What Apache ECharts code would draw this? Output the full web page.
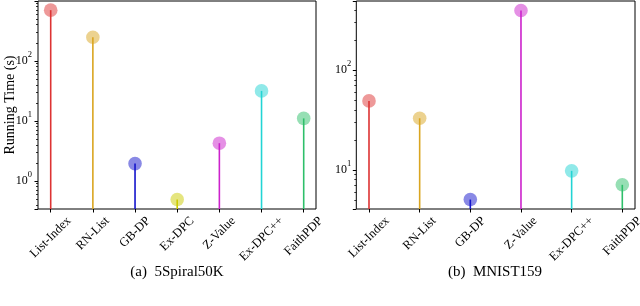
<!DOCTYPE html>
<html><head><meta charset="utf-8">
<script src="https://cdn.jsdelivr.net/npm/echarts@6/dist/echarts.min.js"></script>
<style>html,body{margin:0;padding:0;background:#fff}#c{width:640px;height:306px}</style>
</head><body><div id="c"></div>
<script>
// ---- data ----
const catsA = ['List-Index', 'RN-List', 'GB-DP', 'Ex-DPC', 'Z-Value', 'Ex-DPC++', 'FaithPDP'];
const valsA = [700, 248, 1.94, 0.49, 4.25, 31.6, 11];
const catsB = ['List-Index', 'RN-List', 'GB-DP', 'Z-Value', 'Ex-DPC++', 'FaithPDP'];
const valsB = [49.3, 33, 5.05, 398, 9.8, 7.1];
const yRangeA = [0.34, 995];
const yRangeB = [4.06, 495];
const minorA = [0.4, 0.5, 0.6, 0.7, 0.8, 0.9, 2, 3, 4, 5, 6, 7, 8, 9, 20, 30, 40, 50, 60, 70, 80, 90, 200, 300, 400, 500, 600, 700, 800, 900];
const minorB = [5, 6, 7, 8, 9, 20, 30, 40, 50, 60, 70, 80, 90, 200, 300, 400];
const captionA = '(a)  5Spiral50K';
const captionB = '(b)  MNIST159';
const figCaption = 'Figure 3: Running time comparison';

const colorMap = {
  'List-Index': '#dd3333', 'RN-List': '#daa520', 'GB-DP': '#1414cc', 'Ex-DPC': '#cccc00',
  'Z-Value': '#cc22cc', 'Ex-DPC++': '#22d4d4', 'FaithPDP': '#2ebf6a'
};
const FONT = '"Liberation Serif", "Times New Roman", serif';
const LABEL_SIZE = 12.5;

// measure label widths so rotated labels are centred under their tick (matplotlib ha=center)
const cv = document.createElement('canvas').getContext('2d');
cv.font = LABEL_SIZE + 'px "Liberation Serif"';
const GRID_BOTTOM = 209, MARGIN = 2, TOP_Y = 214.5, H = 12.5;
function richFor(cats) {
  const rich = {};
  cats.forEach((c, i) => {
    const L = cv.measureText(c).width;
    const anchorY = GRID_BOTTOM + MARGIN;
    let s = (TOP_Y - anchorY + 0.3536 * (L + H)) / 1.4142;
    if (s < 0) s = 0;
    rich['k' + i] = { fontSize: LABEL_SIZE, fontFamily: FONT, color: '#000', padding: [2 * s, 2 * s, 0, 0] };
  });
  return rich;
}
const yRich = {
  b: { fontSize: 12, fontFamily: FONT, color: '#000' },
  s: { fontSize: 8.5, fontFamily: FONT, color: '#000', padding: [0, 0, 12, 0] }
};
function yFmt(v) {
  const e = Math.log10(v);
  if (Math.abs(e - Math.round(e)) > 1e-6) return '';
  return '{b|10}{s|' + Math.round(e) + '}';
}

function xAxis(gi, cats) {
  return {
    type: 'value', gridIndex: gi, min: 0, max: cats.length - 1, interval: 1,
    axisLine: { show: false, onZero: false }, splitLine: { show: false },
    axisTick: { show: true, length: 3.5, lineStyle: { color: '#000', width: 1 } },
    axisLabel: {
      rotate: 45, align: 'center', verticalAlign: 'middle', margin: MARGIN,
      formatter: v => '{k' + Math.round(v) + '|' + cats[Math.round(v)] + '}',
      rich: richFor(cats)
    }
  };
}
function yAxis(gi, range, offset, margin, name) {
  return {
    type: 'log', logBase: 10, gridIndex: gi, min: range[0], max: range[1],
    position: 'left', offset: offset,
    axisLine: { show: false, onZero: false }, splitLine: { show: false },
    axisTick: { show: true, length: 3.5, lineStyle: { color: '#000', width: 1 } },
    axisLabel: { margin: margin, formatter: yFmt, rich: yRich },
    name: name, nameLocation: 'middle', nameGap: 21, nameMoveOverlap: false,
    nameTextStyle: { fontSize: 14, fontFamily: FONT, color: '#000' }
  };
}
function yMinor(gi, range, offset, minor) {
  return {
    type: 'log', logBase: 10, gridIndex: gi, min: range[0], max: range[1],
    position: 'left', offset: offset,
    axisLine: { show: false, onZero: false }, splitLine: { show: false }, axisLabel: { show: false },
    axisTick: { show: true, customValues: minor, length: 2, lineStyle: { color: '#000', width: 0.8 } }
  };
}
function stemSeries(xi, yi, cats, vals) {
  return {
    type: 'custom', xAxisIndex: xi, yAxisIndex: yi, clip: false,
    data: vals.map((v, i) => ({ value: [i, v], itemStyle: { color: colorMap[cats[i]] } })),
    renderItem: (params, api) => {
      const p = api.coord([api.value(0), api.value(1)]);
      const cs = params.coordSys;
      const bottom = cs.y + cs.height;
      const color = api.visual('color');
      return {
        type: 'group', children: [
          { type: 'circle', shape: { cx: p[0], cy: p[1], r: 6.8 }, style: { fill: color, opacity: 0.5 } },
          { type: 'line', shape: { x1: p[0], y1: bottom, x2: p[0], y2: p[1] }, style: { stroke: color, lineWidth: 1.6 } }
        ]
      };
    }
  };
}

const chart = echarts.init(document.getElementById('c'), null, { renderer: 'canvas' });
const base = { top: 1, height: 208, containLabel: false, outerBoundsMode: 'none' };
const frame = { show: true, borderColor: '#000', borderWidth: 1, backgroundColor: 'transparent' };
chart.setOption({
  animation: false,
  backgroundColor: '#fff',
  textStyle: { fontFamily: FONT },
  grid: [
    // data areas: from first to last category (matplotlib adds 5% margins)
    Object.assign({ left: 50.7, width: 253.0 }, base),
    Object.assign({ left: 369.0, width: 253.3 }, base),
    // frames
    Object.assign({ left: 38, width: 278 }, base, frame),
    Object.assign({ left: 356.3, width: 278.7 }, base, frame)
  ],
  xAxis: [xAxis(0, catsA), xAxis(1, catsB),
    { type: 'value', gridIndex: 2, show: false }, { type: 'value', gridIndex: 3, show: false }],
  yAxis: [
    yAxis(0, yRangeA, 12.7, 6, 'Running Time (s)'),
    yAxis(1, yRangeB, 12.7, 5, ''),
    { type: 'value', gridIndex: 2, show: false }, { type: 'value', gridIndex: 3, show: false },
    yMinor(0, yRangeA, 12.7, minorA), yMinor(1, yRangeB, 12.7, minorB)
  ],
  series: [stemSeries(0, 0, catsA, valsA), stemSeries(1, 1, catsB, valsB)],
  graphic: [
    { type: 'text', x: 177, y: 272, style: { text: captionA, font: '15px ' + FONT, fill: '#000', align: 'center', verticalAlign: 'middle', textAlign: 'center', textVerticalAlign: 'middle' } },
    { type: 'text', x: 495, y: 272, style: { text: captionB, font: '15px ' + FONT, fill: '#000', align: 'center', verticalAlign: 'middle', textAlign: 'center', textVerticalAlign: 'middle' } },
    { type: 'text', x: 300, y: 304.5, style: { text: figCaption, font: '16px ' + FONT, fill: '#000', align: 'center', verticalAlign: 'top', textAlign: 'center', textVerticalAlign: 'top' } }
  ]
});
</script></body></html>
